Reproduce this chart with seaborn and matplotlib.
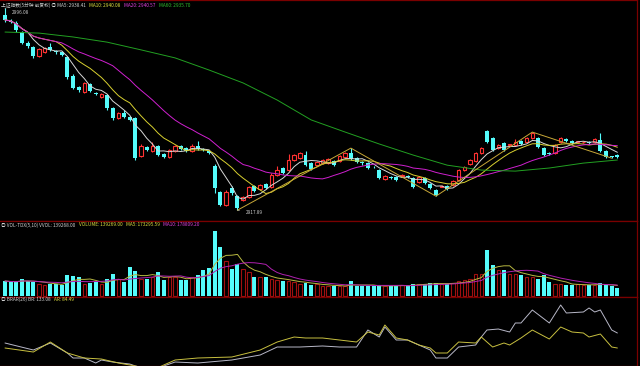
import numpy as np
import pandas as pd
import matplotlib
matplotlib.use("Agg")
import matplotlib.pyplot as plt
import seaborn as sns

# 5-minute candles
opens = [2993.4, 2991.1, 2990.3, 2986.8, 2982.6, 2981.0, 2977.5, 2979.1, 2981.0, 2979.1,
         2979.1, 2977.1, 2969.8, 2965.5, 2963.6, 2966.7, 2963.2, 2961.7, 2962.4, 2957.4,
         2953.5, 2955.5, 2953.9, 2953.5, 2938.8, 2942.3, 2940.8, 2942.7, 2939.6, 2938.4,
         2940.8, 2942.7, 2941.9, 2940.8, 2942.7, 2941.5, 2940.8, 2935.0, 2924.9, 2919.9,
         2926.4, 2923.3, 2921.8, 2922.9, 2927.2, 2926.0, 2928.0, 2926.8, 2931.5, 2934.2,
         2933.4, 2937.3, 2938.1, 2939.2, 2936.1, 2935.3, 2936.1, 2936.1, 2936.9, 2936.9,
         2938.4, 2940.0, 2938.1, 2936.2, 2936.1, 2934.6, 2933.4, 2929.9, 2930.7, 2930.7,
         2931.1, 2931.1, 2930.3, 2928.8, 2930.3, 2928.0, 2925.7, 2927.0, 2927.2, 2927.6,
         2929.5, 2933.4, 2935.7, 2936.9, 2940.0, 2948.5, 2945.8, 2941.9, 2943.9, 2943.0,
         2943.1, 2944.6, 2944.2, 2945.8, 2945.8, 2941.9, 2940.0, 2940.0, 2944.2, 2945.4,
         2944.6, 2944.2, 2944.1, 2944.2, 2944.2, 2945.0, 2940.8, 2938.5, 2939.2]
highs = [2996.08, 2991.9, 2990.9, 2987.4, 2983.2, 2981.5, 2980.8, 2981.0, 2982.6, 2979.7,
         2979.5, 2977.7, 2970.4, 2966.0, 2967.5, 2967.1, 2963.6, 2963.2, 2962.8, 2957.8,
         2956.0, 2956.6, 2954.3, 2954.0, 2943.5, 2942.7, 2944.2, 2943.1, 2940.0, 2941.5,
         2943.1, 2943.1, 2942.3, 2943.5, 2944.6, 2941.9, 2941.1, 2935.7, 2925.3, 2925.7,
         2927.2, 2923.7, 2923.3, 2927.2, 2927.6, 2928.0, 2928.4, 2932.3, 2935.0, 2934.6,
         2939.6, 2939.6, 2940.4, 2940.8, 2936.5, 2936.9, 2937.7, 2938.1, 2937.3, 2939.2,
         2940.4, 2941.9, 2938.4, 2937.0, 2936.5, 2935.0, 2933.8, 2931.5, 2931.1, 2931.1,
         2931.9, 2931.5, 2930.7, 2931.1, 2930.7, 2928.4, 2926.0, 2927.6, 2927.6, 2929.5,
         2933.8, 2935.0, 2937.7, 2940.4, 2942.3, 2948.9, 2946.2, 2943.5, 2944.2, 2943.5,
         2945.4, 2945.0, 2946.2, 2948.1, 2946.2, 2942.3, 2940.4, 2943.5, 2946.2, 2945.8,
         2945.0, 2944.6, 2944.6, 2944.6, 2945.8, 2947.7, 2941.1, 2938.8, 2939.6]
lows = [2990.7, 2990.3, 2987.0, 2982.0, 2980.8, 2976.9, 2977.0, 2978.7, 2979.5, 2978.5,
        2977.5, 2968.8, 2964.6, 2963.6, 2963.2, 2963.6, 2962.4, 2961.3, 2956.8, 2952.8,
        2953.1, 2953.5, 2952.4, 2937.3, 2938.4, 2940.8, 2940.4, 2938.8, 2938.0, 2938.0,
        2940.4, 2941.1, 2940.4, 2940.4, 2941.1, 2940.8, 2939.6, 2924.5, 2919.5, 2919.5,
        2923.7, 2917.89, 2921.4, 2922.6, 2924.9, 2925.7, 2926.0, 2926.4, 2931.1, 2931.9,
        2933.0, 2936.9, 2937.7, 2934.9, 2933.4, 2935.0, 2935.7, 2935.7, 2935.0, 2936.5,
        2938.1, 2937.3, 2936.1, 2935.3, 2933.8, 2934.2, 2929.9, 2929.5, 2930.0, 2929.1,
        2930.7, 2930.3, 2926.4, 2928.4, 2928.0, 2926.0, 2923.3, 2926.8, 2925.7, 2927.2,
        2929.1, 2933.0, 2935.3, 2936.5, 2939.6, 2943.9, 2940.8, 2941.5, 2940.8, 2942.7,
        2942.7, 2943.1, 2943.9, 2945.4, 2941.9, 2938.8, 2939.2, 2939.6, 2943.9, 2944.2,
        2943.5, 2943.9, 2943.9, 2943.5, 2943.9, 2940.4, 2938.0, 2938.0, 2938.0]
closes = [2991.5, 2990.7, 2987.6, 2982.6, 2981.4, 2977.5, 2980.2, 2980.6, 2979.9, 2979.0,
          2977.9, 2969.4, 2965.1, 2964.4, 2967.1, 2964.0, 2962.8, 2962.8, 2957.4, 2953.5,
          2955.5, 2953.9, 2952.8, 2938.1, 2942.7, 2941.1, 2942.7, 2939.2, 2938.4, 2941.1,
          2942.7, 2941.5, 2940.8, 2942.7, 2941.5, 2941.1, 2940.0, 2926.4, 2919.9, 2924.9,
          2924.5, 2918.6, 2922.9, 2926.8, 2925.3, 2927.6, 2926.4, 2931.5, 2933.4, 2932.3,
          2937.3, 2939.2, 2940.0, 2935.3, 2933.8, 2936.5, 2937.3, 2937.7, 2935.3, 2938.8,
          2940.0, 2937.7, 2936.5, 2936.0, 2934.2, 2934.4, 2930.3, 2931.1, 2930.4, 2929.5,
          2931.5, 2930.7, 2926.8, 2930.7, 2928.4, 2926.4, 2923.7, 2927.2, 2926.0, 2929.1,
          2933.4, 2934.6, 2937.3, 2940.0, 2941.9, 2944.2, 2941.1, 2943.1, 2941.1, 2943.1,
          2944.2, 2943.5, 2945.8, 2947.7, 2942.3, 2939.2, 2939.6, 2943.1, 2945.8, 2944.6,
          2943.9, 2944.3, 2944.2, 2943.9, 2945.4, 2940.8, 2938.4, 2938.4, 2938.4]
# volume, thousands
volumes = [261, 244, 244, 296, 261, 244, 209, 191, 209, 209,
           191, 365, 348, 331, 209, 226, 244, 209, 296, 383,
           296, 244, 505, 435, 296, 296, 331, 418, 278, 331,
           331, 278, 278, 331, 365, 452, 487, 1131, 853, 609,
           470, 557, 470, 418, 331, 331, 331, 296, 278, 261,
           261, 244, 209, 226, 191, 209, 174, 174, 174, 174,
           174, 261, 174, 174, 174, 174, 191, 174, 174, 174,
           191, 191, 209, 209, 209, 226, 226, 209, 209, 226,
           261, 278, 296, 383, 383, 800, 539, 452, 452, 383,
           383, 365, 331, 331, 296, 365, 244, 209, 209, 191,
           191, 209, 191, 191, 191, 226, 191, 174, 139]

# MA60 (every 6th candle)
ma60_idx = [0, 6, 12, 18, 24, 30, 36, 42, 48, 54, 60, 66, 72, 78, 84, 90, 96, 102, 108]
ma60_val = [2986.8, 2986.4, 2984.9, 2982.9, 2979.9, 2976.8, 2972.1, 2967.1, 2960.5, 2952.8,
            2948.1, 2943.5, 2939.2, 2935.3, 2933.4, 2933.0, 2934.2, 2936.1, 2937.3]

# zigzag pivots
zig_idx = [41, 61, 76, 93, 107]
zig_val = [2917.89, 2941.9, 2923.3, 2948.1, 2938.0]

# BRAR(26)
br_idx = [0, 5, 8, 11, 12, 14, 16, 17, 19, 22, 23, 26, 30, 34, 40, 45, 48, 52, 56, 59,
          62, 64, 66, 67, 69, 71, 73, 75, 76, 78, 80, 83, 84, 85, 87, 89, 90, 91, 93, 96,
          98, 99, 102, 103, 104, 105, 107, 108]
br_val = [100.7, 78.0, 100.7, 68.3, 52.1, 52.1, 35.9, 45.6, 39.1, 32.6, 26.2, 13.2, 39.1, 35.9,
          45.6, 61.8, 87.7, 87.7, 91.0, 87.7, 87.7, 142.8, 120.1, 152.5, 110.4, 110.4, 94.2,
          78.0, 52.1, 52.1, 87.7, 94.2, 120.1, 142.8, 146.0, 136.3, 165.5, 165.5, 207.6, 165.5,
          223.8, 197.9, 201.1, 214.1, 201.1, 207.6, 142.8, 133.08]
ar_idx = [0, 5, 8, 11, 14, 17, 20, 23, 26, 30, 34, 40, 45, 48, 51, 53, 56, 59, 62, 64,
          66, 67, 69, 71, 73, 75, 76, 78, 80, 83, 84, 86, 88, 89, 91, 93, 96, 98, 100, 102,
          103, 105, 107, 108]
ar_val = [84.5, 71.5, 103.9, 68.3, 52.1, 48.8, 35.9, 26.2, 13.2, 45.6, 52.1, 55.3, 78.0, 103.9,
          120.1, 116.9, 116.9, 110.4, 103.9, 136.3, 126.6, 159.0, 116.9, 110.4, 94.2, 84.5,
          68.3, 68.3, 103.9, 100.7, 120.1, 87.7, 100.7, 94.2, 116.9, 142.8, 113.6, 152.5,
          136.3, 133.1, 120.1, 129.8, 87.7, 84.49]

CYAN = "#54fcfc"
RED = "#ff3232"
DRED = "#a01010"
BORDER = "#7a0000"
FS = 3.4

sns.set_style("dark", {"axes.facecolor": "black", "figure.facecolor": "black"})
plt.rcParams["font.family"] = ["Noto Sans CJK SC", "DejaVu Sans"]

df = pd.DataFrame({"open": opens, "high": highs, "low": lows, "close": closes, "vol": volumes})
df["x"] = np.arange(len(df))
df["up"] = df["close"] >= df["open"]
df["ma5"] = df["close"].rolling(5, min_periods=1).mean()
df["ma10"] = df["close"].rolling(10, min_periods=1).mean()
df["ma20"] = df["close"].rolling(20, min_periods=1).mean()
df["vma5"] = df["vol"].rolling(5, min_periods=1).mean()
df["vma10"] = df["vol"].rolling(10, min_periods=1).mean()

fig = plt.figure(figsize=(6.4, 3.66), dpi=100)
W, H = 640, 366


def panel(top, bottom):
    ax = fig.add_axes([0, 1 - bottom / H, 637 / W, (bottom - top) / H])
    ax.set_facecolor("black")
    ax.set_xlim(-0.88, 111.46)
    ax.set_xticks([])
    ax.set_yticks([])
    ax.grid(False)
    for s in ax.spines.values():
        s.set_color(BORDER)
        s.set_linewidth(0.9)
    ax.spines["left"].set_visible(False)
    return ax


ax1 = panel(0, 221)
ax2 = panel(221, 297)
ax3 = panel(297, 366)

# candles
up = df[df["up"]]
dn = df[~df["up"]]
ax1.vlines(up["x"], up["low"], up["high"], color=RED, lw=0.8, zorder=2)
ax1.vlines(dn["x"], dn["low"], dn["high"], color=CYAN, lw=0.8, zorder=2)
body = np.maximum((df["close"] - df["open"]).abs(), 0.35)
bot = np.minimum(df["open"], df["close"])
ax1.bar(dn["x"], body[~df["up"]], bottom=bot[~df["up"]], width=0.7, color=CYAN, lw=0, zorder=3)
ax1.bar(up["x"], body[df["up"]], bottom=bot[df["up"]], width=0.62, facecolor="black",
        edgecolor=RED, lw=0.8, zorder=3)

sns.lineplot(data=df, x="x", y="ma5", ax=ax1, color="#d8d8d8", lw=0.7, zorder=4)
sns.lineplot(data=df, x="x", y="ma10", ax=ax1, color="#d8d030", lw=0.7, zorder=4)
sns.lineplot(data=df, x="x", y="ma20", ax=ax1, color="#d020d0", lw=0.7, zorder=4)
sns.lineplot(x=ma60_idx, y=ma60_val, ax=ax1, color="#22a022", lw=0.7, zorder=4)
sns.lineplot(x=zig_idx, y=zig_val, ax=ax1, color="#c8a838", lw=0.7, zorder=4)
ax1.set_ylim(2913.7, 2999.2)
ax1.set_xlabel("")
ax1.set_ylabel("")

ax1.annotate("2996.08", xy=(0, 2996.08), xytext=(1.2, 2994.2), color="#c8c8c8", fontsize=FS,
             va="center", arrowprops=dict(arrowstyle="-", color="#c8c8c8", lw=0.5))
ax1.annotate("2917.89", xy=(41, 2917.89), xytext=(42.4, 2917.0), color="#c8c8c8", fontsize=FS,
             va="center", arrowprops=dict(arrowstyle="-", color="#c8c8c8", lw=0.5))

# volume
vup = df[df["up"]]
vdn = df[~df["up"]]
ax2.bar(vdn["x"], vdn["vol"], width=0.7, color=CYAN, lw=0, zorder=3)
ax2.bar(vup["x"], vup["vol"], width=0.62, facecolor="black", edgecolor=DRED, lw=0.8, zorder=3)
sns.lineplot(data=df, x="x", y="vma5", ax=ax2, color="#b8b840", lw=0.7, zorder=4)
sns.lineplot(data=df, x="x", y="vma10", ax=ax2, color="#b020b0", lw=0.7, zorder=4)
ax2.set_ylim(-17.4, 1305)
ax2.set_xlabel("")
ax2.set_ylabel("")

# BRAR
sns.lineplot(x=br_idx, y=br_val, ax=ax3, color="#b8b8c8", lw=0.7)
sns.lineplot(x=ar_idx, y=ar_val, ax=ax3, color="#c8c040", lw=0.7)
ax3.set_ylim(26.2, 249.7)
ax3.set_xlabel("")
ax3.set_ylabel("")


def label(ax, parts, y):
    # chain coloured pieces one after another
    s, c = parts[0]
    prev = fig.text(1 / W, 1 - y / H, s, color=c, fontsize=FS, va="center", ha="left")
    for s, c in parts[1:]:
        prev = ax.annotate(s, xy=(1, 0.5), xycoords=prev, xytext=(2.5, 0),
                           textcoords="offset points", color=c, fontsize=FS,
                           va="center", ha="left", annotation_clip=False)


label(ax1, [("上证指数(5分钟 前复权) ◎ MA5: 2938.41", "#d0d0d0"),
            ("MA10: 2940.08", "#e0e040"),
            ("MA20: 2940.57", "#e040e0"),
            ("MA60: 2935.70", "#30c030")], 5.5)
label(ax2, [("◎ VOL-TDX(5,10) VVOL: 139268.00", "#d0d0d0"),
            ("VOLUME: 139269.00", "#e0e040"),
            ("MA5: 173295.59", "#e0e040"),
            ("MA10: 178809.20", "#e040e0")], 225)
label(ax3, [("◎ BRAR(26) BR: 133.08", "#d0d0d0"),
            ("AR: 84.49", "#e0e040")], 299.5)

fig.savefig("out.png", dpi=100, facecolor="black")
